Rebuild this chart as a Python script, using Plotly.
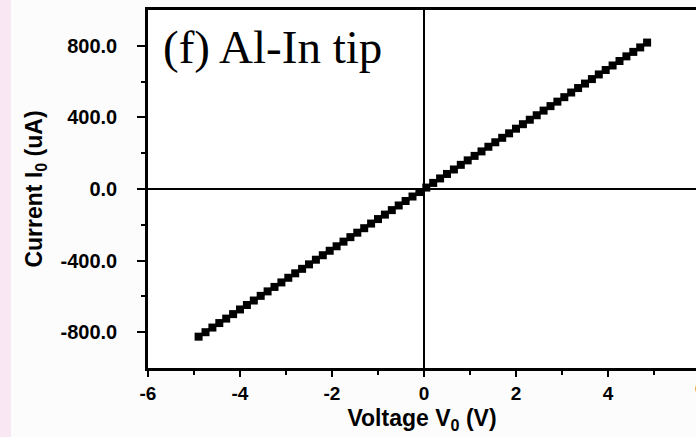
import plotly.graph_objects as go

# I-V sweep of the Al-In tip
voltage = [-4.90, -4.75, -4.60, -4.45, -4.30, -4.15, -4.00, -3.85, -3.70, -3.55,
           -3.40, -3.25, -3.10, -2.95, -2.80, -2.65, -2.50, -2.35, -2.20, -2.05,
           -1.90, -1.75, -1.60, -1.45, -1.30, -1.15, -1.00, -0.85, -0.70, -0.55,
           -0.40, -0.25, -0.10, 0.05, 0.20, 0.35, 0.50, 0.65, 0.80, 0.95,
           1.10, 1.25, 1.40, 1.55, 1.70, 1.85, 2.00, 2.15, 2.30, 2.45,
           2.60, 2.75, 2.90, 3.05, 3.20, 3.35, 3.50, 3.65, 3.80, 3.95,
           4.10, 4.25, 4.40, 4.55, 4.70, 4.85]
current = [-825, -800, -774, -749, -724, -699, -673, -648, -623, -597,
           -572, -547, -522, -496, -471, -446, -421, -395, -370, -345,
           -320, -294, -269, -244, -219, -193, -168, -143, -118, -92,
           -67, -42, -17, 8, 34, 59, 84, 109, 135, 160,
           185, 210, 236, 261, 286, 311, 337, 362, 387, 412,
           438, 463, 488, 513, 539, 564, 589, 614, 640, 665,
           690, 715, 741, 766, 791, 818]

x_ticks = [-6, -4, -2, 0, 2, 4]
y_ticks = [-800, -400, 0, 400, 800]
y_tick_text = ["-800.0", "-400.0", "0.0", "400.0", "800.0"]

W, H = 696, 437
ML, MT, MB = 148, 10, 69
px_per_v = 46.0
x_hi = -6 + (W - ML) / px_per_v

fig = go.Figure()
fig.add_trace(go.Scatter(
    x=voltage, y=current, mode="lines+markers",
    line=dict(color="black", width=3),
    marker=dict(symbol="square", size=8, color="black"),
    showlegend=False, cliponaxis=False,
))

sans = "Liberation Sans, Arial, sans-serif"
xtick_font = dict(family=sans, size=19, color="black")
ytick_font = dict(family=sans, size=20, color="black")
title_font = dict(family=sans, size=23, color="black")

fig.update_xaxes(
    range=[-6, x_hi], tickvals=x_ticks, ticktext=[f"<b>{v}</b>" for v in x_ticks],
    ticks="outside", ticklen=6, tickwidth=2, tickcolor="black",
    minor=dict(tickvals=[-5, -3, -1, 1, 3, 5], ticks="outside", ticklen=4,
               tickwidth=2, tickcolor="black"),
    showline=True, linecolor="black", linewidth=2.5, mirror=True,
    showgrid=False, zeroline=True, zerolinecolor="black", zerolinewidth=2,
    tickfont=xtick_font, ticklabelstandoff=0,
    title=dict(text="<b>Voltage V<sub>0</sub> (V)</b>", font=title_font, standoff=8),
)
fig.update_yaxes(
    range=[-1000, 1000], tickvals=y_ticks,
    ticktext=[f"<b>{t}</b>" for t in y_tick_text],
    ticks="outside", ticklen=8, tickwidth=2, tickcolor="black",
    minor=dict(tickvals=[-600, -200, 200, 600], ticks="outside", ticklen=4,
               tickwidth=2, tickcolor="black"),
    showline=True, linecolor="black", linewidth=2.5,
    showgrid=False, zeroline=True, zerolinecolor="black", zerolinewidth=2,
    tickfont=ytick_font, ticklabelstandoff=16,
    title=dict(text="<b>Current I<sub>0</sub> (uA)</b>", font=title_font, standoff=12),
)

# pale strip along the left edge of the page
fig.add_shape(type="rect", xref="paper", yref="paper",
              x0=-ML / (W - ML), x1=(11 - ML) / (W - ML), y0=-MB / (H - MT - MB),
              y1=1 + MT / (H - MT - MB), fillcolor="#f9e8f4", line_width=0,
              layer="below")

fig.add_annotation(text="(f) Al-In tip", xref="paper", yref="paper",
                   x=(161 - ML) / (W - ML), y=1 - (19 - MT) / (H - MT - MB),
                   xanchor="left", yanchor="top", showarrow=False,
                   font=dict(family="Liberation Serif, Times New Roman, serif",
                             size=47, color="black"))

# the last x tick label sits at the page edge
fig.add_annotation(text="<b>6</b>", xref="paper", yref="paper",
                   x=(6 + 6) * px_per_v / (W - ML), y=0, yshift=-8,
                   xanchor="center", yanchor="top", showarrow=False, font=xtick_font)

fig.update_layout(
    width=W, height=H,
    margin=dict(l=ML, r=0, t=MT, b=MB, pad=0),
    paper_bgcolor="#fdfcfd", plot_bgcolor="white",
)

fig.write_html("out.html")
